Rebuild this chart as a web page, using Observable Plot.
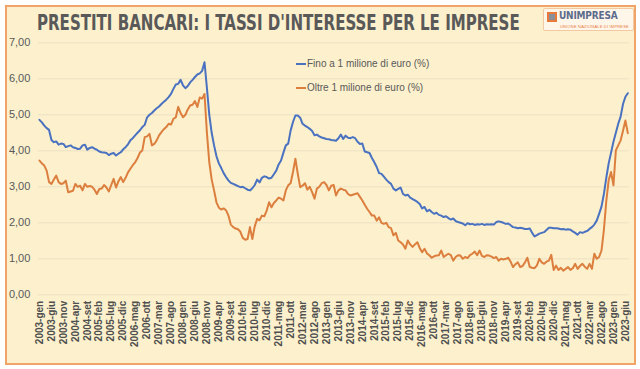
<!DOCTYPE html>
<html><head><meta charset="utf-8">
<script src="https://cdn.jsdelivr.net/npm/d3@7"></script>
<script src="https://cdn.jsdelivr.net/npm/@observablehq/plot@0.6"></script>
<style>
html,body{margin:0;padding:0;background:#ffffff;}
#wrap{position:relative;width:640px;height:369px;overflow:hidden;font-family:"Liberation Sans",Arial,sans-serif;}
#frame{position:absolute;left:5px;top:5px;width:627px;height:356px;border:2px solid #f0a468;background:#fcf0cd;}
#head{position:absolute;left:0;top:0;}
#chart{position:absolute;left:0;top:0;}
.leg{position:absolute;left:296px;font-size:10px;color:#595959;white-space:nowrap;display:flex;align-items:center;}
.leg span.sw{display:inline-block;width:10px;height:2px;margin-right:1px;}
#logo{position:absolute;left:543px;top:8px;width:89px;height:21px;background:#fff6ea;border:1px solid #f3c9a4;border-radius:2px;}
#logo .ic{position:absolute;left:3px;top:3px;width:10px;height:10px;background:#8a8f99;border:2px solid #e8793a;box-sizing:border-box;}
#logo .nm{position:absolute;left:15px;top:1px;font-size:10px;line-height:12px;font-weight:bold;color:#5b6b8c;letter-spacing:-0.2px;font-family:"DejaVu Sans Condensed","Liberation Sans",sans-serif;}
#logo .sb{position:absolute;left:16px;top:15px;font-size:4px;line-height:5px;color:#e8793a;letter-spacing:0.2px;}
</style>
</head><body>
<div id="wrap">
  <div id="frame"></div>
  <svg id="head" width="640" height="44">
    <text id="ttl" x="37" y="30" font-family="DejaVu Sans Condensed, DejaVu Sans, sans-serif" font-weight="bold" font-size="20.5" fill="#595959">PRESTITI BANCARI: I TASSI D'INTERESSE PER LE IMPRESE</text>
  </svg>
  <div id="logo"><div class="ic"></div><div class="nm">UNIMPRESA</div><div class="sb">UNIONE NAZIONALE DI IMPRESE</div></div>
  <div id="chart"></div>
  <div class="leg" style="top:58px"><span class="sw" style="background:#4a72c0"></span>Fino a 1 milione di euro (%)</div>
  <div class="leg" style="top:82px"><span class="sw" style="background:#dc7f3e"></span>Oltre 1 milione di euro (%)</div>
</div>
<script>
const startYear = 2003;
const monthNames = ["gen","feb","mar","apr","mag","giu","lug","ago","set","ott","nov","dic"];
const seriesNames = ["Fino a 1 milione di euro (%)", "Oltre 1 milione di euro (%)"];
const yTicks = [0,1,2,3,4,5,6,7];

// Fino a 1 milione di euro (%) — monthly, 2003-gen .. 2023-lug
const fino = [
 4.86,4.79,4.70,4.63,4.58,4.30,4.24,4.26,4.17,4.20,4.19,4.10,
 4.13,4.15,4.10,4.08,4.05,4.06,4.15,4.17,4.03,4.08,4.10,4.06,
 4.03,3.98,3.96,3.95,3.94,3.88,3.92,3.94,3.87,3.92,3.96,4.04,
 4.10,4.18,4.29,4.35,4.43,4.50,4.57,4.66,4.72,4.93,5.00,5.05,
 5.12,5.18,5.23,5.30,5.36,5.42,5.49,5.58,5.72,5.84,5.86,5.97,
 5.82,5.74,5.80,5.90,5.97,6.05,6.12,6.15,6.22,6.46,5.75,5.00,
 4.50,4.15,3.85,3.65,3.52,3.38,3.27,3.18,3.11,3.08,3.05,3.02,
 2.99,3.00,2.96,2.92,2.90,2.96,3.05,3.20,3.12,3.25,3.29,3.27,
 3.23,3.25,3.35,3.45,3.62,3.73,3.95,4.15,4.20,4.56,4.80,4.98,
 4.98,4.92,4.75,4.70,4.66,4.61,4.55,4.43,4.45,4.40,4.37,4.35,
 4.33,4.32,4.30,4.29,4.28,4.35,4.45,4.33,4.42,4.36,4.35,4.38,
 4.35,4.25,4.19,4.20,3.98,3.96,3.94,3.80,3.68,3.55,3.38,3.36,
 3.28,3.20,3.13,3.08,2.95,2.90,2.94,2.98,2.80,2.76,2.78,2.70,
 2.66,2.62,2.58,2.52,2.40,2.44,2.32,2.36,2.30,2.25,2.28,2.22,
 2.20,2.16,2.18,2.13,2.09,2.12,2.05,2.02,2.00,1.98,1.93,1.99,
 1.96,1.97,1.94,1.96,1.95,1.97,1.94,1.96,1.95,1.96,1.95,2.02,
 2.04,2.02,2.00,1.97,1.98,1.93,1.88,1.87,1.85,1.86,1.85,1.83,
 1.83,1.84,1.72,1.62,1.66,1.70,1.72,1.74,1.80,1.86,1.86,1.85,
 1.85,1.84,1.82,1.83,1.81,1.82,1.81,1.76,1.72,1.67,1.74,1.72,
 1.75,1.77,1.83,1.88,1.95,2.06,2.25,2.45,2.80,3.25,3.65,3.95,
 4.25,4.50,4.75,4.95,5.30,5.50,5.60
];

// Oltre 1 milione di euro (%) — monthly, 2003-gen .. 2023-lug
const oltre = [
 3.73,3.65,3.59,3.45,3.13,3.08,3.20,3.31,3.13,3.08,3.10,3.17,
 2.85,2.87,2.89,3.08,3.00,3.03,2.90,3.08,3.00,3.02,3.00,2.92,
 2.80,2.94,2.95,3.05,2.98,2.87,3.05,3.22,2.98,3.15,3.27,3.13,
 3.25,3.40,3.50,3.60,3.68,3.80,3.95,4.01,4.38,4.40,4.47,4.15,
 4.19,4.29,4.43,4.52,4.60,4.66,4.75,4.73,4.89,4.93,5.22,5.05,
 4.93,5.00,5.15,5.26,5.28,5.38,5.22,5.48,5.45,5.58,4.50,3.68,
 3.20,2.90,2.57,2.42,2.37,2.40,2.35,2.20,1.95,1.88,1.84,1.82,
 1.75,1.58,1.53,1.55,1.88,1.55,1.90,2.11,2.07,2.20,2.18,2.34,
 2.57,2.43,2.55,2.62,2.70,2.67,2.62,2.90,3.04,3.10,3.41,3.78,
 3.36,2.99,3.03,3.10,2.92,3.00,2.85,2.67,2.95,3.00,3.10,3.13,
 3.05,2.90,3.03,3.05,2.76,2.90,2.95,2.92,2.90,2.80,2.76,2.78,
 2.80,2.82,2.72,2.62,2.50,2.39,2.30,2.20,2.20,2.06,2.15,2.00,
 1.97,2.00,1.88,1.85,1.65,1.72,1.51,1.46,1.40,1.28,1.51,1.40,
 1.33,1.40,1.46,1.30,1.18,1.28,1.15,1.10,1.03,1.07,1.09,1.10,
 1.23,1.05,1.10,1.14,1.10,0.95,1.05,1.10,1.09,1.00,1.05,1.02,
 1.10,1.14,1.20,1.10,1.23,1.08,1.05,1.10,1.09,1.06,1.02,1.05,
 0.95,1.00,0.98,1.00,1.03,0.92,0.77,0.85,0.90,0.77,0.80,0.90,
 1.03,0.77,0.75,0.74,0.82,1.00,0.90,0.86,0.92,0.95,1.11,0.69,
 0.81,0.69,0.75,0.67,0.72,0.77,0.69,0.74,0.86,0.72,0.80,0.86,
 0.78,0.72,0.86,0.72,1.14,1.00,1.05,1.23,1.80,2.60,3.18,3.41,
 3.04,4.01,4.15,4.29,4.56,4.84,4.49
];

// Title: fit to the reference width by shrinking the font and stretching it vertically
(function fitTitle() {
  const t = document.getElementById("ttl");
  const target = 483, baseSize = 20.5;
  const len = t.getComputedTextLength();
  if (len > 0) {
    const fs = baseSize * target / len;
    t.setAttribute("font-size", fs);
    const k = baseSize / fs;
    t.setAttribute("transform", `translate(0,30) scale(1,${k}) translate(0,-30)`);
  }
})();

const n = fino.length;
const label = i => `${startYear + Math.floor(i / 12)}-${monthNames[i % 12]}`;
const xTicks = d3.range(0, n, 5);
const rows = [
  ...fino.map((v, i) => ({i, v, s: seriesNames[0]})),
  ...oltre.map((v, i) => ({i, v, s: seriesNames[1]}))
];

const chart = Plot.plot({
  width: 640, height: 369,
  marginLeft: 37.8, marginRight: 11.5, marginTop: 42.3, marginBottom: 74.7,
  style: {background: "transparent", fontFamily: "'Liberation Sans', Arial, sans-serif", color: "#595959", overflow: "visible"},
  x: {domain: [-0.5, n - 0.5]},
  y: {domain: [0, 7]},
  color: {domain: seriesNames, range: ["#4a72c0", "#dc7f3e"]},
  marks: [
    Plot.gridY(yTicks, {stroke: "#ebe0c4", strokeOpacity: 1, strokeWidth: 1}),
    Plot.axisY(yTicks, {tickSize: 0, tickPadding: 8, fontSize: 11, fill: "#595959", tickFormat: d => d.toFixed(2).replace(".", ","), label: null}),
    Plot.axisX(xTicks, {tickSize: 0, tickPadding: 6, tickRotate: -90, fontSize: 10, fontWeight: "bold", fill: "#505050", tickFormat: label, label: null}),
    Plot.lineY(rows, {x: "i", y: "v", z: "s", stroke: "s", strokeWidth: 2, strokeLinejoin: "round"})
  ]
});
document.getElementById("chart").appendChild(chart);
</script>
</body></html>
